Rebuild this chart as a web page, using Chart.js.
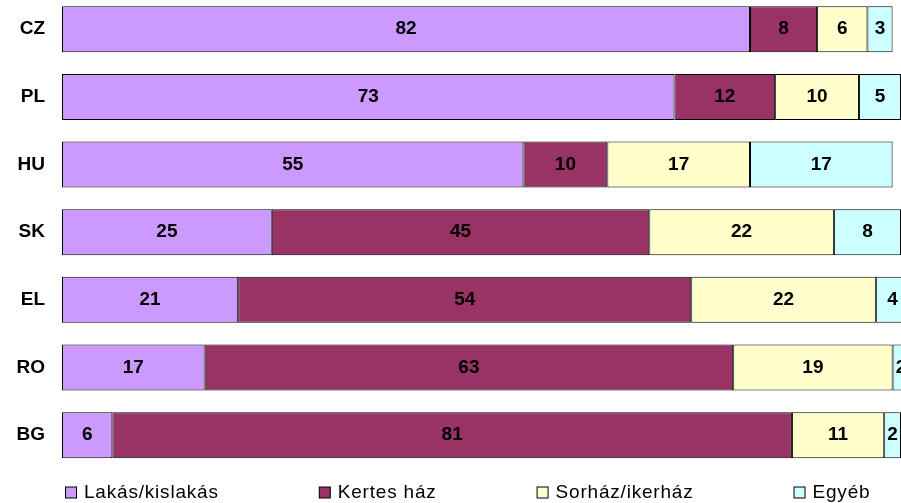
<!DOCTYPE html>
<html lang="hu">
<head>
  <meta charset="utf-8" />
  <title>Lakástípusok országonként</title>
  <script src="https://cdn.jsdelivr.net/npm/chart.js"></script>
  <style>
    html, body { margin: 0; padding: 0; background: #fff; overflow: hidden; }
    #wrap { position: relative; width: 901px; height: 528px; margin-top: -25px; }
  </style>
</head>
<body>
  <div id="wrap">
    <canvas id="housingChart"></canvas>
  </div>

  <script>
    // Adatok (a kép feliratairól leolvasva)
    const countries = ['CZ', 'PL', 'HU', 'SK', 'EL', 'RO', 'BG'];
    const seriesNames = ['Lakás/kislakás', 'Kertes ház', 'Sorház/ikerház', 'Egyéb'];
    const lakas = [82, 73, 55, 25, 21, 17, 6];
    const kertesHaz = [8, 12, 10, 45, 54, 63, 81];
    const sorhaz = [6, 10, 17, 22, 22, 19, 11];
    const egyeb = [3, 5, 17, 8, 4, 2, 2];

    const colors = ['#CC99FF', '#993366', '#FFFFCC', '#CCFFFF'];
    const FONT = 'Arial, "Liberation Sans", sans-serif';

    // Értékek a sávok közepére
    const valueLabels = {
      id: 'valueLabels',
      afterDatasetsDraw(chart) {
        const ctx = chart.ctx;
        ctx.save();
        ctx.font = 'bold 19px ' + FONT;
        ctx.fillStyle = '#000';
        ctx.textAlign = 'center';
        ctx.textBaseline = 'middle';
        chart.data.datasets.forEach((ds, i) => {
          chart.getDatasetMeta(i).data.forEach((bar, j) => {
            const left = Math.min(bar.base, bar.x);
            const right = Math.max(bar.base, bar.x);
            ctx.fillText(ds.data[j], (left + right) / 2, bar.y);
          });
        });
        ctx.restore();
      }
    };

    // Jelmagyarázat alul
    const bottomLegend = {
      id: 'bottomLegend',
      afterDraw(chart) {
        const ctx = chart.ctx;
        const y = chart.height - 11;
        const box = 11;
        const gap = 8;
        const pad = 100;
        ctx.save();
        ctx.font = '19px ' + FONT;
        ctx.letterSpacing = '0.8px';
        ctx.textBaseline = 'middle';
        let x = 65;
        chart.data.datasets.forEach(ds => {
          ctx.fillStyle = ds.backgroundColor;
          ctx.fillRect(x + 0.5, y - box / 2 + 0.5, box, box);
          ctx.strokeStyle = '#000';
          ctx.lineWidth = 1;
          ctx.strokeRect(x + 0.5, y - box / 2 + 0.5, box, box);
          ctx.fillStyle = '#000';
          ctx.fillText(ds.label, x + box + gap, y + 1);
          x += box + gap + ctx.measureText(ds.label).width + pad;
        });
        ctx.restore();
      }
    };

    const seriesData = [lakas, kertesHaz, sorhaz, egyeb];

    new Chart(document.getElementById('housingChart'), {
      type: 'bar',
      data: {
        labels: countries,
        datasets: seriesData.map((d, i) => ({
          label: seriesNames[i],
          data: d,
          backgroundColor: colors[i],
          borderColor: '#000',
          borderWidth: 1,
          borderSkipped: false,
          categoryPercentage: 1,
          barPercentage: 0.68
        }))
      },
      options: {
        indexAxis: 'y',
        responsive: true,
        maintainAspectRatio: false,
        animation: false,
        layout: { padding: { top: 0, right: 0, bottom: 34, left: 0 } },
        plugins: {
          legend: { display: false },
          tooltip: { enabled: false }
        },
        scales: {
          x: {
            stacked: true,
            min: 0,
            max: 100,
            display: false
          },
          y: {
            stacked: true,
            grid: { display: false },
            border: { display: false },
            ticks: {
              padding: 9,
              color: '#000',
              font: { family: FONT, size: 19, weight: 'bold' }
            },
            afterFit(scale) { scale.width = 62; }
          }
        }
      },
      plugins: [valueLabels, bottomLegend]
    });
  </script>
</body>
</html>
